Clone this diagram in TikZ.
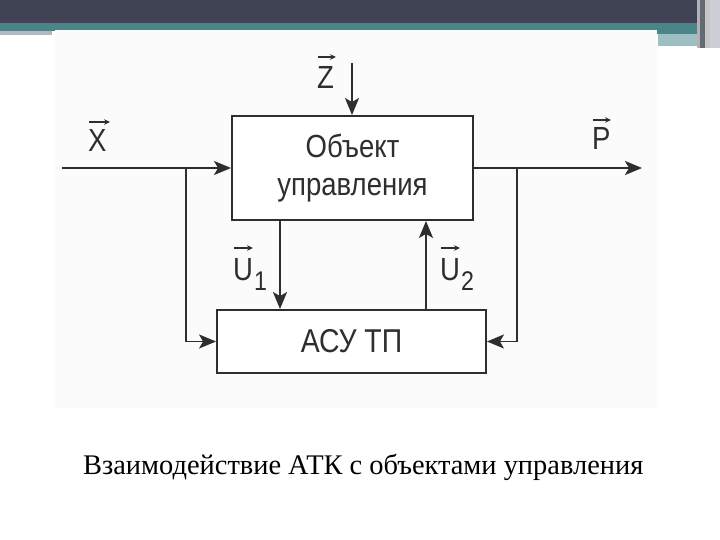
\documentclass[tikz,border=0pt]{standalone}
\usepackage{fontspec}
\setmainfont{Liberation Serif}
\newfontfamily\dg[FakeStretch=0.86]{Liberation Sans}
\usetikzlibrary{arrows.meta}
\definecolor{ln}{HTML}{2E2E2E}
\definecolor{topdark}{HTML}{3F4253}
\definecolor{toppurple}{HTML}{4B3F58}
\definecolor{topteal}{HTML}{4A8587}
\definecolor{lightteal}{HTML}{9DBEC2}
\definecolor{lightstrip}{HTML}{AEB9C2}
\definecolor{picbg}{HTML}{FBFBFB}
\tikzset{
  blk/.style={draw=ln, line width=1.9pt, fill=white, inner sep=0pt, align=center, text=ln},
  arr/.style={draw=ln, line width=1.9pt, -{Stealth[length=17pt,width=14pt,inset=4pt]}},
  lbl/.style={inner sep=0pt, anchor=base west, text=ln, font=\dg\fontsize{32}{32}\selectfont},
  vec/.style={draw=ln, line width=1.1pt, -{Stealth[length=6pt,width=5.5pt]}}
}
\begin{document}
\begin{tikzpicture}[x=1pt,y=-1pt]
\useasboundingbox (0,0) rectangle (720,540);
\fill[white] (0,0) rectangle (720,540);
% slide decoration
\fill[topdark] (0,0) rectangle (720,20);
\fill[toppurple] (0,20) rectangle (700,23);
\fill[topteal] (0,23) rectangle (700,31);
\fill[lightstrip] (0,31) rectangle (52,35);
\fill[topteal] (657,30) rectangle (700,34);
\fill[lightteal] (658,34) rectangle (700,46);
\fill[gray!60] (697,0) rectangle (700,48);
\fill[topdark!80] (700,0) rectangle (705,48);
\fill[gray!45] (705,0) rectangle (710,48);
\fill[blue!10!gray!35] (710,0) rectangle (720,48);
% picture background
\fill[picbg] (55,30) rectangle (657,408);
% blocks
\node[blk, minimum width=241pt, minimum height=104pt,
      font=\dg\fontsize{32}{38}\selectfont] (obj) at (352.5,168) {Объект\\управления};
\node[blk, minimum width=269pt, minimum height=63pt,
      font=\dg\fontsize{33}{33}\selectfont] (asu) at (351.5,341.5) {АСУ ТП};
% connectors
\coordinate (xin) at (62,168);
\coordinate (xsplit) at (186,168);
\coordinate (pout) at (642,168);
\coordinate (psplit) at (517,168);
\coordinate (zin) at (352,63);
\draw[arr] (xin) -- (obj.west);
\draw[arr] (xsplit) |- (asu.west);
\draw[arr] (obj.east) -- (pout);
\draw[arr] (psplit) |- (asu.east);
\draw[arr] (zin) -- (zin |- obj.north);
\draw[arr] ([xshift=-72.5pt]obj.south) -- ([xshift=-72.5pt]obj.south |- asu.north);
\draw[arr] ([xshift=74.5pt]asu.north) -- ([xshift=74.5pt]asu.north |- obj.south);
% labels
\node[lbl] (lx) at (88,152) {X};
\draw[vec] ([shift={(1pt,30pt)}]lx.base west) -- ([shift={(22pt,30pt)}]lx.base west);
\node[lbl] (lz) at (317,89) {Z};
\draw[vec] ([shift={(1pt,32pt)}]lz.base west) -- ([shift={(19pt,32pt)}]lz.base west);
\node[lbl] (lp) at (592,150) {P};
\draw[vec] ([shift={(1pt,30pt)}]lp.base west) -- ([shift={(19pt,30pt)}]lp.base west);
\node[lbl] (lu1) at (233,280) {U\kern1pt\raisebox{-10pt}{\fontsize{27}{27}\selectfont 1}};
\draw[vec] ([shift={(1pt,32pt)}]lu1.base west) -- ([shift={(20pt,32pt)}]lu1.base west);
\node[lbl] (lu2) at (440,280) {U\kern1pt\raisebox{-10pt}{\fontsize{27}{27}\selectfont 2}};
\draw[vec] ([shift={(1pt,32pt)}]lu2.base west) -- ([shift={(20pt,32pt)}]lu2.base west);
% caption
\node[inner sep=0pt, anchor=base west] (cap) at (83,474)
  {\resizebox{560pt}{!}{Взаимодействие АТК с объектами управления}};
\end{tikzpicture}
\end{document}
